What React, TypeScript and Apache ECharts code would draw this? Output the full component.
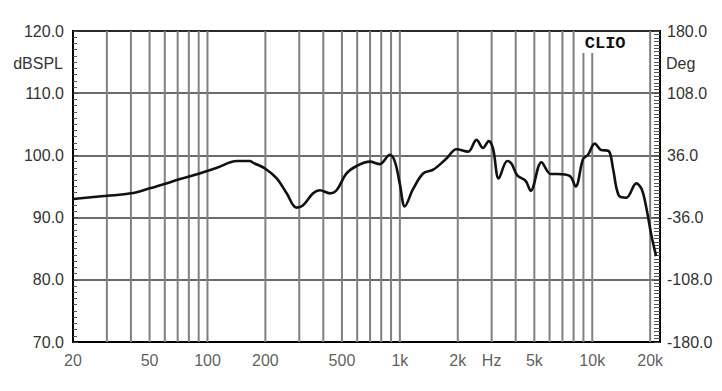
import React, { useEffect, useRef } from "react";
import * as echarts from "echarts";

const freqs = [20, 30, 40, 50, 61, 72, 91, 112, 142, 166, 173, 199, 229, 258, 290, 314, 354, 384, 433, 469, 528, 596, 698, 787, 887, 942, 1000, 1061, 1172, 1321, 1490, 1746, 1969, 2264, 2502, 2706, 2897, 3050, 3266, 3614, 3802, 4074, 4508, 4786, 5445, 6080, 6608, 7634, 8200, 8954, 9506, 10300, 11070, 12170, 12820, 13720, 15030, 16940, 18060, 19100, 20280, 21480];
const dbspl = [93.0, 93.5, 93.9, 94.7, 95.5, 96.2, 97.1, 98.0, 99.1, 99.1, 98.8, 97.9, 96.3, 93.9, 91.6, 92.0, 93.9, 94.4, 93.9, 94.4, 97.1, 98.3, 99.0, 98.6, 100.1, 99.0, 95.4, 91.8, 94.6, 97.1, 97.7, 99.5, 101.0, 100.6, 102.5, 101.2, 102.3, 101.1, 96.3, 99.1, 98.7, 96.8, 95.9, 94.3, 98.9, 97.0, 97.0, 96.7, 95.0, 99.4, 100.1, 101.9, 100.9, 100.7, 97.9, 93.6, 93.2, 95.5, 94.6, 91.6, 87.2, 83.8];

const gridFreqs = [30, 40, 50, 60, 70, 80, 90, 100, 200, 300, 400, 500, 600, 700, 800, 900, 1000, 2000, 3000, 4000, 5000, 6000, 7000, 8000, 9000, 10000, 20000];
const xTickValues = [20, 50, 100, 200, 500, 1000, 2000, 3000, 5000, 10000, 20000];
const xTickLabels = ["20", "50", "100", "200", "500", "1k", "2k", "Hz", "5k", "10k", "20k"];
const yMin = 70;
const yMax = 120;
const clioAnchor = 20000;

export default function App() {
  const ref = useRef<HTMLDivElement>(null);
  useEffect(() => {
    if (!ref.current) return;
    const chart = echarts.init(ref.current, undefined, { renderer: "svg" });
    const labelFont = { fontFamily: "Liberation Sans, Arial, sans-serif", fontSize: 16, color: "#333" };
    // CLIO box placement relative to the anchor point (pixels)
    const boxLeft = -72;
    const boxRight = -4;
    const boxHeight = 22;
    chart.setOption({
      animation: false,
      backgroundColor: "#fff",
      grid: { left: 73, right: 62, top: 31, bottom: 49, show: true, borderColor: "#000", borderWidth: 2, backgroundColor: "#fff" },
      xAxis: {
        type: "log",
        logBase: 10,
        min: 20,
        max: 22500,
        axisLine: { show: true, onZero: false, lineStyle: { color: "#000", width: 2 } },
        axisTick: { show: false },
        axisLabel: { show: false },
        splitLine: { show: false },
      },
      yAxis: [
        {
          type: "value",
          min: yMin,
          max: yMax,
          interval: 10,
          position: "left",
          axisLine: { show: true, onZero: false, lineStyle: { color: "#000", width: 2 } },
          axisTick: { show: true, inside: true, length: 5, lineStyle: { color: "#444" } },
          minorTick: { show: true, splitNumber: 10, length: 4, lineStyle: { color: "#555" } },
          axisLabel: { ...labelFont, margin: 9, formatter: (v: number) => v.toFixed(1) },
          splitLine: { show: true, lineStyle: { color: "#3a3a3a", width: 1.5 } },
        },
        {
          type: "value",
          min: -180,
          max: 180,
          interval: 72,
          position: "right",
          axisLine: { show: true, onZero: false, lineStyle: { color: "#000", width: 2 } },
          axisTick: { show: true, inside: true, length: 6, lineStyle: { color: "#444" } },
          minorTick: { show: true, splitNumber: 18, length: 6, lineStyle: { color: "#555" } },
          axisLabel: { ...labelFont, margin: 7, formatter: (v: number) => v.toFixed(1) },
          splitLine: { show: false },
        },
      ],
      graphic: {
        elements: [
          { type: "text", style: { x: 63, y: 63, text: "dBSPL", fill: "#333", font: "16px Liberation Sans, Arial, sans-serif", textAlign: "right", textVerticalAlign: "middle" } },
          { type: "text", style: { x: 666, y: 63, text: "Deg", fill: "#333", font: "16px Liberation Sans, Arial, sans-serif", textAlign: "left", textVerticalAlign: "middle" } },
        ],
      },
      series: [
        {
          type: "custom",
          z: 1,
          silent: true,
          data: gridFreqs.map((f) => [f, yMin]),
          renderItem: (params: any, api: any) => {
            const f = api.value(0);
            const p0 = api.coord([f, yMin]);
            const p1 = api.coord([f, yMax]);
            const a = api.coord([clioAnchor, yMax]);
            const inBox = p0[0] > a[0] + boxLeft && p0[0] < a[0] + boxRight;
            return {
              type: "line",
              shape: { x1: p0[0], y1: p0[1], x2: p1[0], y2: p1[1] + (inBox ? boxHeight : 0) },
              style: { stroke: "#808080", lineWidth: 2 },
            };
          },
        },
        {
          type: "custom",
          z: 3,
          silent: true,
          clip: false,
          data: [[clioAnchor, yMax]],
          renderItem: (params: any, api: any) => {
            const p = api.coord([api.value(0), api.value(1)]);
            return {
              type: "text",
              style: { x: p[0] - 45, y: p[1] + 12, text: "CLIO", fill: "#111", font: "bold 17px Liberation Mono, Courier New, monospace", align: "center", verticalAlign: "middle" },
            };
          },
        },
        {
          type: "scatter",
          data: xTickValues.map((v, i) => ({ value: [v, yMin], name: xTickLabels[i] })),
          symbolSize: 0,
          clip: false,
          silent: true,
          z: 5,
          label: { show: true, position: "bottom", distance: 10, formatter: (p: any) => p.name, ...labelFont },
        },
        {
          type: "line",
          data: freqs.map((f, i) => [f, dbspl[i]]),
          showSymbol: false,
          smooth: 0.35,
          z: 10,
          lineStyle: { color: "#111", width: 2.6 },
        },
      ],
    });
    return () => chart.dispose();
  }, []);
  return <div ref={ref} style={{ width: 722, height: 391, position: "absolute", left: 0, top: 0 }} />;
}
